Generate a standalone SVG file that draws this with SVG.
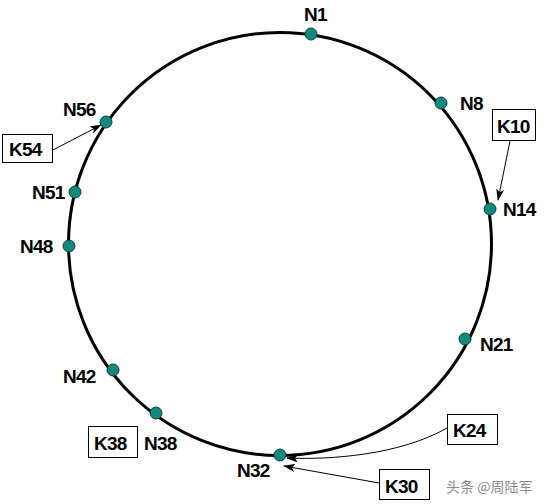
<svg xmlns="http://www.w3.org/2000/svg" width="549" height="504" viewBox="0 0 549 504">
<defs>
<style>
.lbl{font-family:"Liberation Sans",Arial,sans-serif;font-weight:bold;font-size:19px;fill:#000;letter-spacing:-0.8px}
.node{fill:#11897f;stroke:#0a3f3b;stroke-width:1}
.box{fill:#fff;stroke:#000;stroke-width:1}
.conn{fill:none;stroke:#000;stroke-width:1}
</style>
<marker id="ah" viewBox="0 0 12 8" refX="11" refY="4" markerWidth="12" markerHeight="8" markerUnits="userSpaceOnUse" orient="auto">
<path d="M0,0 L12,4 L0,8 L3,4 Z" fill="#000"/>
</marker>
</defs>
<rect width="549" height="504" fill="#fff"/>
<circle cx="280" cy="244" r="211.5" fill="none" stroke="#000" stroke-width="3"/>
<g id="connectors">
<line class="conn" x1="53" y1="150" x2="101" y2="125" marker-end="url(#ah)"/>
<line class="conn" x1="510" y1="141" x2="498" y2="200" marker-end="url(#ah)"/>
<path class="conn" d="M447,428 C400,455 330,460 287,458" marker-end="url(#ah)"/>
<line class="conn" x1="379" y1="483" x2="284" y2="466" marker-end="url(#ah)"/>
</g>
<g id="N1"><circle class="node" cx="311" cy="34" r="6"/><text class="lbl" x="304" y="21">N1</text></g>
<g id="N8"><circle class="node" cx="441" cy="103" r="6"/><text class="lbl" x="460" y="110">N8</text></g>
<g id="N14"><circle class="node" cx="490" cy="209" r="6"/><text class="lbl" x="503" y="216">N14</text></g>
<g id="N21"><circle class="node" cx="465" cy="339" r="6"/><text class="lbl" x="480" y="351">N21</text></g>
<g id="N32"><circle class="node" cx="280" cy="455" r="6"/><text class="lbl" x="237" y="477">N32</text></g>
<g id="N38"><circle class="node" cx="156" cy="413" r="6"/><text class="lbl" x="144" y="450">N38</text></g>
<g id="N42"><circle class="node" cx="113" cy="370" r="6"/><text class="lbl" x="63" y="383">N42</text></g>
<g id="N48"><circle class="node" cx="69" cy="246" r="6"/><text class="lbl" x="20" y="253">N48</text></g>
<g id="N51"><circle class="node" cx="75" cy="192" r="6"/><text class="lbl" x="32" y="199">N51</text></g>
<g id="N56"><circle class="node" cx="106" cy="122" r="6"/><text class="lbl" x="63" y="116">N56</text></g>
<g id="K54"><rect class="box" x="2.5" y="134.5" width="50" height="28"/><text class="lbl" x="9" y="156">K54</text></g>
<g id="K10"><rect class="box" x="492.5" y="109.5" width="43" height="31"/><text class="lbl" x="497" y="133">K10</text></g>
<g id="K38"><rect class="box" x="88.5" y="426.5" width="49" height="31"/><text class="lbl" x="94" y="450">K38</text></g>
<g id="K24"><rect class="box" x="447.5" y="414.5" width="50" height="30"/><text class="lbl" x="453" y="437">K24</text></g>
<g id="K30"><rect class="box" x="379.5" y="469.5" width="50" height="30"/><text class="lbl" x="385" y="493">K30</text></g>
<text x="446" y="492" font-family="'Noto Sans CJK SC',sans-serif" font-size="14" fill="#8a8a8a">头条 @周陆军</text>
</svg>
